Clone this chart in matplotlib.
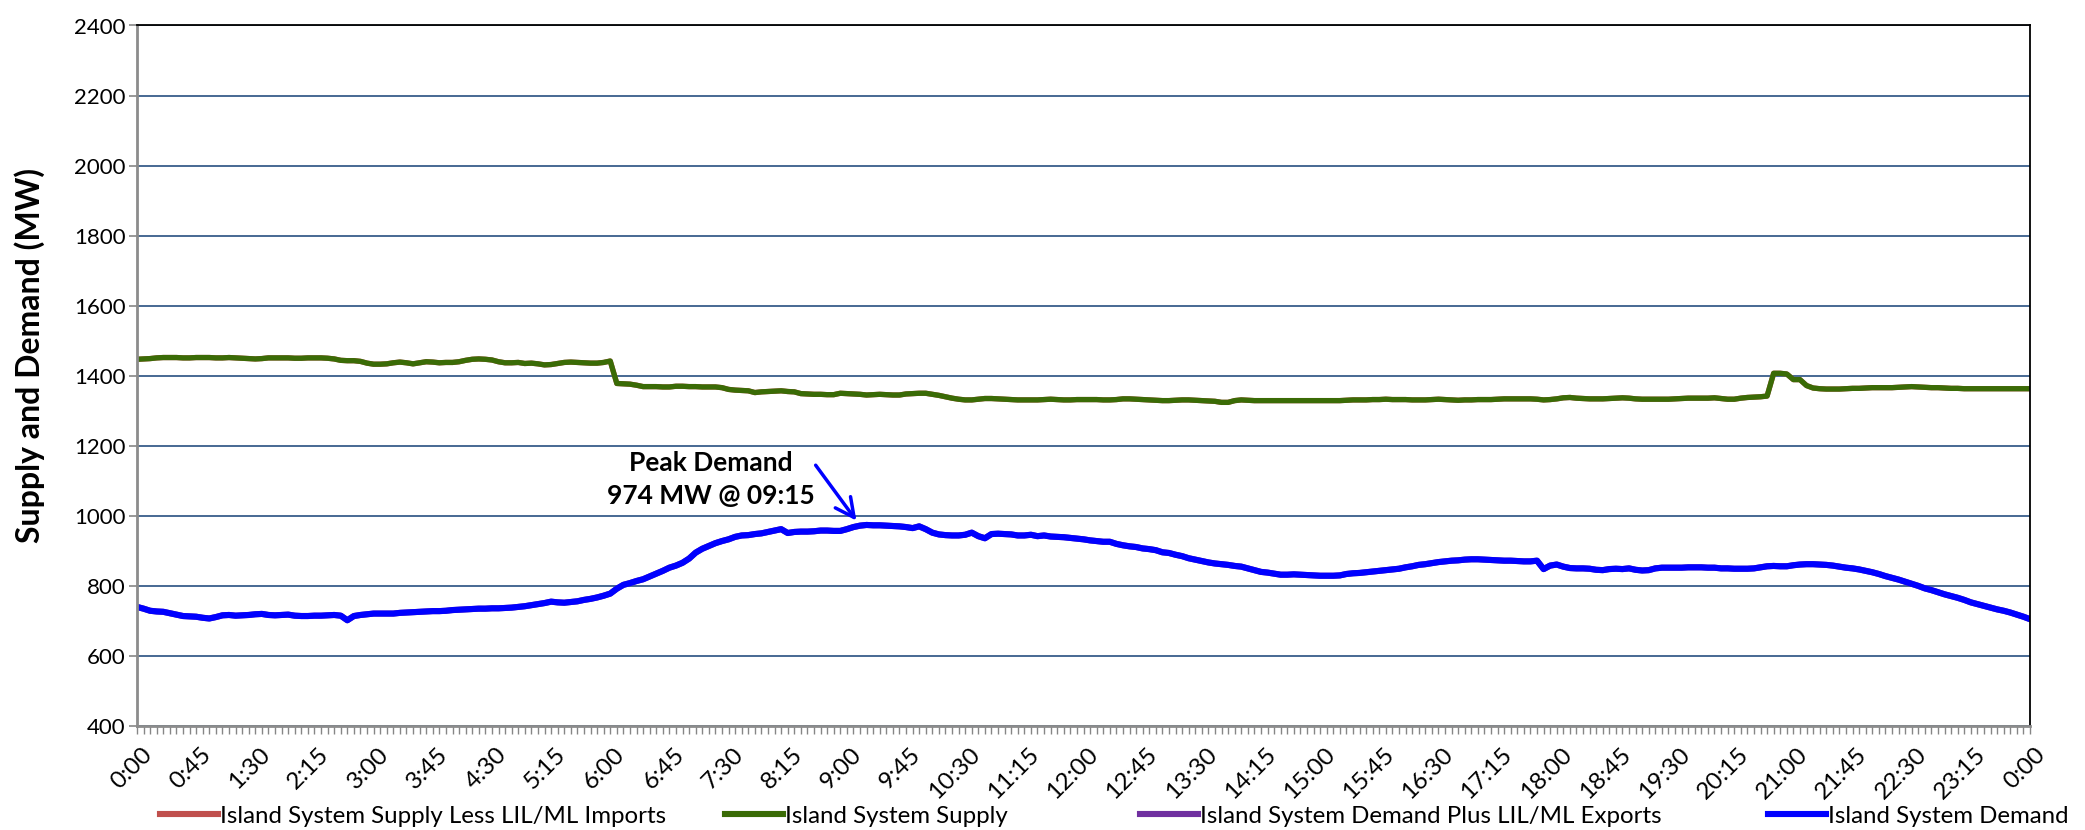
import matplotlib
matplotlib.use("Agg")
import matplotlib.pyplot as plt
from matplotlib.lines import Line2D
import matplotlib.transforms as mtransforms

plt.rcParams['font.family'] = ['Lato', 'DejaVu Sans']

# 5-minute values, 0:00 .. 24:00 (289 points)
supply = [
    1447, 1448, 1449, 1451, 1452, 1452, 1452, 1451, 1451, 1452,
    1452, 1452, 1451, 1451, 1452, 1451, 1450, 1449, 1448, 1449,
    1451, 1451, 1451, 1451, 1450, 1450, 1451, 1451, 1451, 1450,
    1448, 1444, 1443, 1443, 1441, 1436, 1433, 1433, 1434, 1437,
    1439, 1437, 1434, 1437, 1440, 1439, 1437, 1438, 1438, 1440,
    1444, 1447, 1448, 1447, 1445, 1440, 1437, 1437, 1438, 1435,
    1436, 1434, 1431, 1432, 1435, 1438, 1439, 1438, 1437, 1436,
    1436, 1438, 1442, 1378, 1377, 1376, 1373, 1369, 1369, 1369,
    1368, 1368, 1370, 1370, 1369, 1369, 1368, 1368, 1368, 1366,
    1361, 1359, 1358, 1357, 1352, 1354, 1355, 1356, 1357, 1355,
    1354, 1349, 1348, 1347, 1347, 1346, 1346, 1350, 1349, 1348,
    1347, 1345, 1346, 1347, 1346, 1345, 1345, 1348, 1349, 1350,
    1350, 1347, 1344, 1340, 1336, 1333, 1331, 1331, 1333, 1335,
    1335, 1334, 1333, 1332, 1331, 1331, 1331, 1331, 1332, 1333,
    1332, 1331, 1331, 1332, 1332, 1332, 1332, 1331, 1331, 1332,
    1334, 1334, 1333, 1332, 1331, 1330, 1329, 1329, 1330, 1331,
    1331, 1330, 1329, 1328, 1327, 1324, 1324, 1329, 1331, 1330,
    1329, 1329, 1329, 1329, 1329, 1329, 1329, 1329, 1329, 1329,
    1329, 1329, 1329, 1329, 1330, 1331, 1331, 1331, 1332, 1332,
    1333, 1332, 1332, 1332, 1331, 1331, 1331, 1332, 1333, 1332,
    1331, 1330, 1331, 1331, 1332, 1332, 1332, 1333, 1334, 1334,
    1334, 1334, 1334, 1333, 1331, 1332, 1334, 1337, 1338, 1336,
    1335, 1334, 1334, 1334, 1335, 1336, 1337, 1336, 1334, 1333,
    1333, 1333, 1333, 1333, 1334, 1335, 1336, 1336, 1336, 1336,
    1337, 1335, 1333, 1333, 1336, 1338, 1339, 1340, 1342, 1407,
    1407, 1405, 1389, 1389, 1372, 1365, 1363, 1362, 1362, 1362,
    1363, 1364, 1364, 1365, 1366, 1366, 1366, 1366, 1367, 1368,
    1369, 1368, 1367, 1366, 1366, 1365, 1364, 1364, 1363, 1363,
    1363, 1363, 1363, 1363, 1363, 1363, 1363, 1363, 1363,
]

demand = [
    740, 735, 729, 727, 726, 722, 718, 714, 713, 712,
    709, 707, 711, 716, 717, 715, 716, 717, 719, 720,
    717, 716, 717, 718, 715, 714, 714, 715, 715, 716,
    717, 715, 702, 714, 717, 719, 721, 721, 721, 721,
    723, 724, 725, 726, 727, 728, 728, 729, 731, 732,
    733, 734, 735, 735, 736, 736, 737, 738, 740, 742,
    745, 748, 751, 755, 753, 752, 754, 756, 760, 763,
    767, 772, 778, 792, 803, 808, 814, 819, 827, 835,
    843, 852, 858, 866, 878, 895, 906, 914, 922, 928,
    933, 940, 944, 945, 948, 950, 954, 958, 962, 951,
    954, 955, 955, 956, 958, 958, 957, 957, 962, 968,
    972, 974, 973, 973, 972, 971, 970, 968, 965, 970,
    962, 952, 947, 945, 944, 944, 946, 952, 942, 936,
    948, 949, 948, 947, 944, 944, 946, 942, 944, 941,
    940, 939, 937, 935, 933, 930, 928, 926, 926, 920,
    916, 913, 911, 907, 905, 902, 896, 894, 889, 885,
    879, 875, 871, 867, 864, 862, 860, 857, 855, 850,
    845, 840, 838, 835, 832, 832, 833, 832, 831, 830,
    829, 829, 829, 830, 834, 836, 837, 839, 841, 843,
    845, 847, 849, 853, 856, 860, 862, 865, 868, 870,
    872, 873, 875, 876, 876, 875, 874, 873, 872, 872,
    871, 870, 870, 872, 848, 858, 861, 855, 851, 850,
    850, 849, 846, 845, 848, 849, 848, 850, 846, 844,
    845, 850, 852, 852, 852, 852, 853, 853, 853, 852,
    852, 850, 850, 849, 849, 849, 850, 853, 856, 857,
    856, 856, 859, 861, 862, 862, 861, 860, 858, 855,
    852, 850, 847, 843, 839, 834, 828, 823, 818, 812,
    806, 800, 793, 788, 782, 776, 771, 766, 760, 753,
    748, 743, 738, 733, 729, 724, 718, 712, 705,
]

# no LIL/ML flows that day: these series sit under the ones above
supply_less_imports = supply
demand_plus_exports = demand

tick_labels = ['0:00', '0:45', '1:30', '2:15', '3:00', '3:45', '4:30', '5:15',
               '6:00', '6:45', '7:30', '8:15', '9:00', '9:45', '10:30', '11:15',
               '12:00', '12:45', '13:30', '14:15', '15:00', '15:45', '16:30',
               '17:15', '18:00', '18:45', '19:30', '20:15', '21:00', '21:45',
               '22:30', '23:15', '0:00']
label_step = 9

peak_idx = demand.index(max(demand))

W, H = 2085, 830
fig = plt.figure(figsize=(W / 100, H / 100), dpi=100)
ax = fig.add_axes([137 / W, 1 - 726 / H, (2030 - 137) / W, (726 - 25.5) / H])

x = list(range(len(demand)))
kw = dict(solid_joinstyle='round', solid_capstyle='round')
ax.plot(x, supply_less_imports, color='#C0504D', lw=3.8, **kw)
ax.plot(x, supply, color='#3A6B06', lw=3.8, **kw)
ax.plot(x, demand_plus_exports, color='#7030A0', lw=4.4, **kw)
ax.plot(x, demand, color='#0000FF', lw=4.4, **kw)

ax.set_xlim(0, len(demand) - 1)
ax.set_ylim(400, 2400)
ax.set_yticks(range(400, 2401, 200))
ax.tick_params(axis='y', labelsize=16, length=6, width=1.2, color='#868686', pad=2)
ax.yaxis.grid(True, color='#385D8A', lw=1.3)
ax.set_axisbelow(True)

ax.set_xticks(range(0, len(demand), label_step))
ax.set_xticklabels(tick_labels, rotation=45, ha='right', rotation_mode='anchor')
ax.set_xticks(x, minor=True)
ax.tick_params(axis='x', which='both', length=6, width=1, color='#868686')
ax.tick_params(axis='x', which='major', labelsize=17.5, pad=7)
offset = mtransforms.ScaledTranslation(4 / 100, 0, fig.dpi_scale_trans)
for lab in ax.get_xticklabels():
    lab.set_transform(lab.get_transform() + offset)

for s in ['left', 'bottom']:
    ax.spines[s].set_color('#8C8C8C')
    ax.spines[s].set_linewidth(2)
for s in ['top', 'right']:
    ax.spines[s].set_color('black')
    ax.spines[s].set_linewidth(1.3)

ax.set_ylabel('Supply and Demand (MW)', fontsize=23, fontweight='bold')
ax.yaxis.set_label_coords(-0.0484, 0.529)

# peak annotation
ax.annotate('', xy=(peak_idx - 1.3, demand[peak_idx] + 6), xytext=(103, 1151),
            arrowprops=dict(arrowstyle='->', color='#0000FF', lw=2.5, mutation_scale=34))
ax.text(87.3, 1105, 'Peak Demand\n974 MW @ 09:15', ha='center', va='center',
        fontsize=19, fontweight='bold', linespacing=1.45)

# legend entries spaced like the original
names = ['Island System Supply Less LIL/ML Imports', 'Island System Supply',
         'Island System Demand Plus LIL/ML Exports', 'Island System Demand']
colors = ['#C0504D', '#3A6B06', '#7030A0', '#0000FF']
starts = [160, 725, 1140, 1768]
for name, c, x0 in zip(names, colors, starts):
    h = Line2D([0], [0], color=c, lw=4.4)
    fig.legend([h], [name], loc='center left', bbox_to_anchor=(x0 / W, 1 - 816 / H),
               frameon=False, fontsize=17.3, handlelength=2.4, handletextpad=0.1,
               borderpad=0, borderaxespad=0)

fig.savefig('out.png', dpi=100)
